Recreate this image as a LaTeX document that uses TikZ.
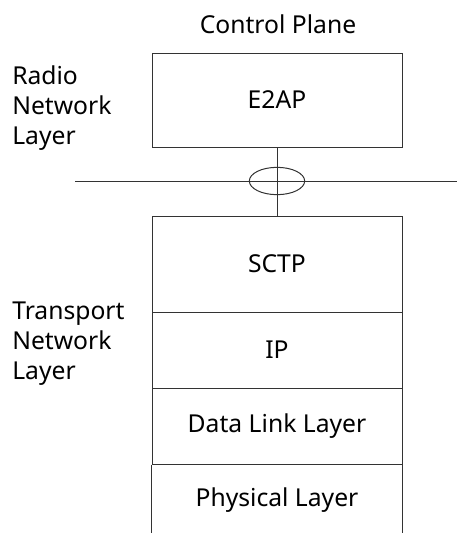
\documentclass[tikz,border=0pt]{standalone}
\usepackage{fontspec}
\setmainfont{Noto Sans}
\usetikzlibrary{shapes.geometric}
\tikzset{
  layerbox/.style={draw=black!80,line width=0.75pt,minimum width=187.5pt,inner sep=0pt},
  sidetext/.style={anchor=north west,align=left,inner sep=0pt},
}
\begin{document}
\begin{tikzpicture}[x=0.75pt,y=-0.75pt,font=\fontsize{18.5}{22.5}\selectfont]
              \useasboundingbox (0,0) rectangle (457,533);
              %\draw[help lines,step=50] (0,0) grid (457,533);
              \node[] (cplane) at (278,24) {Control Plane};
              \node[sidetext] (rnl) at (12,65) {Radio\\Network\\Layer};
              \node[sidetext] (tnl) at (12,302) {Transport\\Network\\Layer};
              \node[layerbox,minimum height=70.5pt] (e2ap) at (277,100) {E2AP};
              \node[layerbox,minimum height=72pt] (sctp) at (277,264) {SCTP};
              \node[layerbox,minimum height=57pt] (ip) at (277,350) {IP};
              \node[layerbox,minimum height=57pt] (dll) at (277,426) {Data Link Layer};
              \node[inner sep=0pt] (phy) at (277,500) {Physical Layer};
              \coordinate (bottom) at (0,533);
              \path[draw,draw=black!80,line width=0.75pt] (dll.south west)--(dll.south west |- bottom);
              \path[draw,draw=black!80,line width=0.75pt] (dll.south east)--(dll.south east |- bottom);
              \coordinate (lineL) at (75,181);
              \coordinate (lineR) at (457,181);
              \node[ellipse,draw=black!80,line width=0.75pt,minimum width=41.5pt,minimum height=20.5pt,inner sep=0pt] (iface) at (277,181) {};
              \path[draw,draw=black!80,line width=0.75pt] (lineL)--(lineR);
              \path[draw,draw=black!80,line width=0.75pt] (e2ap.south)--(sctp.north);
            \end{tikzpicture}
\end{document}
